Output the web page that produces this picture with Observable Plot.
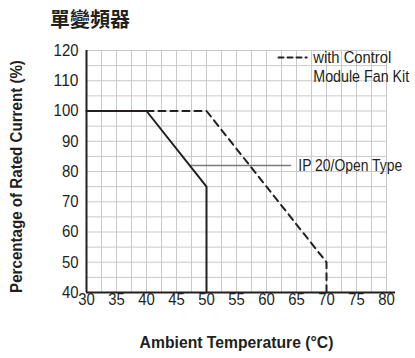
<!DOCTYPE html>
<html><head><meta charset="utf-8">
<script src="https://cdn.jsdelivr.net/npm/d3@7"></script>
<script src="https://cdn.jsdelivr.net/npm/@observablehq/plot@0.6"></script>
<style>
html,body{margin:0;padding:0;background:#fff;}
#wrap{position:relative;width:415px;height:358px;overflow:hidden;}
#title{position:absolute;left:50px;top:9px;font-family:"Noto Sans CJK TC","Noto Sans CJK SC",sans-serif;font-weight:bold;font-size:20px;line-height:20px;color:#231f20;white-space:nowrap;}
#chart{position:absolute;left:0;top:40px;}
</style></head><body>
<div id="wrap"><div id="title"></div><div id="chart"></div></div>
<script>
const titleText = "單變頻器";
const xLabel = "Ambient Temperature (°C)";
const yLabel = "Percentage of Rated Current (%)";
const xTicks = [30, 35, 40, 45, 50, 55, 60, 65, 70, 75, 80];
const yTicks = [40, 50, 60, 70, 80, 90, 100, 110, 120];
const xGrid = [30, 32.5, 35, 37.5, 40, 42.5, 45, 47.5, 50, 52.5, 55, 57.5, 60, 62.5, 65, 67.5, 70, 72.5, 75, 77.5, 80];
const yGrid = [40, 45, 50, 55, 60, 65, 70, 75, 80, 85, 90, 95, 100, 105, 110, 115, 120];
// IP 20 / Open Type derating curve
const ipTemp = [30, 40, 50, 50];
const ipCurrent = [100, 100, 75, 40];
// with Control Module Fan Kit derating curve
const fanTemp = [40, 50, 70, 70];
const fanCurrent = [100, 100, 50, 40];
const ipLabel = "IP 20/Open Type";
const fanLabel = ["with Control", "Module Fan Kit"];
// annotation anchors (data space)
const leaderX = [47.2, 64];
const leaderY = 82;
const legendSwatchX = [62, 66.7];
const legendY = [117.7, 111.2];
const legendTextX = 67.8;

document.getElementById("title").textContent = titleText;

const ink = "#231f20";
const font = '"Liberation Sans","Arimo",sans-serif';
const ip = ipTemp.map((t, i) => ({t, c: ipCurrent[i]}));
const fan = fanTemp.map((t, i) => ({t, c: fanCurrent[i]}));
const xMin = xTicks[0], xMax = xTicks[xTicks.length - 1];

const chart = Plot.plot({
  width: 415,
  height: 318,
  marginLeft: 86,
  marginRight: 20,
  marginTop: 10,
  marginBottom: 66,
  style: {fontFamily: font, fontSize: "16.5px", color: ink, background: "#fff", overflow: "visible"},
  x: {domain: [xMin, xMax + 1.5]},
  y: {domain: [yTicks[0], yTicks[yTicks.length - 1]]},
  marks: [
    Plot.ruleX(xGrid, {stroke: "#c9c9c9", strokeWidth: 1}),
    Plot.ruleY(yGrid, {x1: xMin, x2: xMax, stroke: "#c9c9c9", strokeWidth: 1}),
    Plot.axisX(xTicks, {tickSize: 0, tickPadding: 1, label: null, fontSize: 16.5, fill: ink}),
    Plot.axisY(yTicks, {tickSize: 0, tickPadding: 8, label: null, fontSize: 16.5, fill: ink}),
    Plot.ruleX([xMin], {stroke: ink, strokeWidth: 2}),
    Plot.ruleY([yTicks[0]], {stroke: ink, strokeWidth: 2}),
    Plot.line([{t: leaderX[0], c: leaderY}, {t: leaderX[1], c: leaderY}], {x: "t", y: "c", stroke: "#7a7a7a", strokeWidth: 1.5}),
    Plot.line(fan, {x: "t", y: "c", stroke: ink, strokeWidth: 2, strokeDasharray: "7,5"}),
    Plot.line(ip, {x: "t", y: "c", stroke: ink, strokeWidth: 2}),
    Plot.text([ipLabel], {x: leaderX[1] + 1.3, y: leaderY, text: d => d, textAnchor: "start", fontSize: 16.5, fill: ink}),
    Plot.line([{t: legendSwatchX[0], c: legendY[0]}, {t: legendSwatchX[1], c: legendY[0]}], {x: "t", y: "c", stroke: ink, strokeWidth: 2, strokeDasharray: "5,4"}),
    Plot.text(fanLabel, {x: legendTextX, y: (d, i) => legendY[i], text: d => d, textAnchor: "start", fontSize: 16.5, fill: ink}),
    Plot.text([yLabel], {frameAnchor: "left", textAnchor: "middle", dx: -70, dy: 5, rotate: -90, text: d => d, fontSize: 16, fontWeight: "bold", fill: ink}),
    Plot.text([xLabel], {frameAnchor: "bottom", textAnchor: "middle", dx: -4.5, dy: 55, text: d => d, fontSize: 16, fontWeight: "bold", fill: ink})
  ]
});
document.getElementById("chart").appendChild(chart);

// condense the text horizontally to match the narrow typeface of the reference
const targetWidth = {
  [yLabel]: 233, [xLabel]: 194, [ipLabel]: 104,
  [fanLabel[0]]: 78, [fanLabel[1]]: 96
};
chart.querySelectorAll("text").forEach(el => {
  const s = el.textContent;
  const L = el.getComputedTextLength();
  if (!L) return;
  const w = targetWidth[s] != null ? targetWidth[s] : s.length * 8.3;
  const k = w / L;
  const t = el.getAttribute("transform") || "";
  el.setAttribute("transform", (t + ` scale(${k},1)`).trim());
});
</script>
</body></html>
